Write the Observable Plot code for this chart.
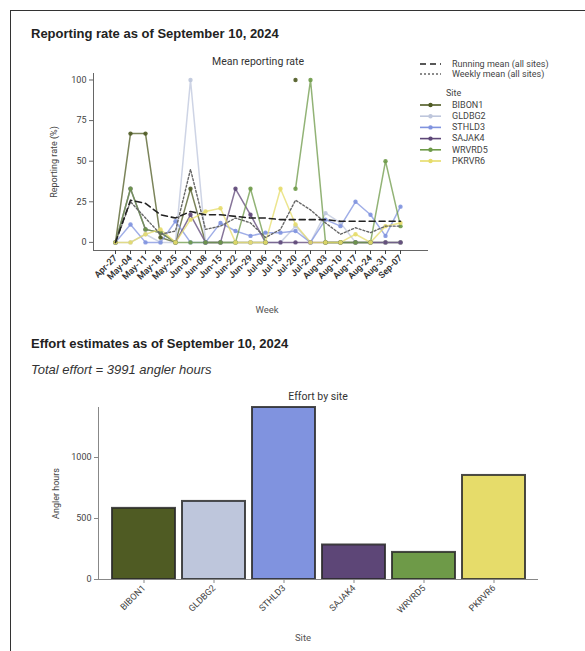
<!DOCTYPE html>
<html><head><meta charset="utf-8">
<script src="https://cdn.jsdelivr.net/npm/d3@7"></script>
<script src="https://cdn.jsdelivr.net/npm/@observablehq/plot@0.6"></script>
<style>
html,body{margin:0;padding:0;background:#fff;overflow:hidden;width:585px;height:651px;}
#page{position:relative;width:585px;height:651px;overflow:hidden;}
#box{position:absolute;left:10px;top:10px;width:620px;height:700px;border-left:1.5px solid #333;border-top:1.5px solid #333;}
.h{position:absolute;left:31px;font:bold 13px "Liberation Sans",Arial,sans-serif;color:#222;white-space:nowrap;line-height:15px;}
.sub{position:absolute;left:31px;font:italic 13px "Liberation Sans",Arial,sans-serif;color:#333;white-space:nowrap;line-height:15px;}
.ct{position:absolute;font:10.5px Roboto,sans-serif;color:#333;text-align:center;white-space:nowrap;}
.al{position:absolute;font:9.5px Roboto,sans-serif;color:#555;text-align:center;white-space:nowrap;}
.abs{position:absolute;}
</style></head>
<body><div id="page">
<div id="box"></div>
<div class="h" style="top:26px">Reporting rate as of September 10, 2024</div>
<div class="ct" style="left:188px;width:140px;top:55px">Mean reporting rate</div>
<div id="topchart" class="abs" style="left:0;top:45px"></div>
<div class="al" style="left:227px;width:80px;top:304px">Week</div>
<div id="legend" class="abs" style="left:410px;top:52px"></div>
<div class="h" style="top:336px">Effort estimates as of September 10, 2024</div>
<div class="sub" style="top:362px">Total effort = 3991 angler hours</div>
<div class="ct" style="left:248px;width:140px;top:390px">Effort by site</div>
<div id="bottomchart" class="abs" style="left:0;top:385px"></div>
<div class="al" style="left:263px;width:80px;top:632px">Site</div>
</div>
<script>
const weeks = ["Apr-27","May-04","May-11","May-18","May-25","Jun-01","Jun-08","Jun-15","Jun-22","Jun-29","Jul-06","Jul-13","Jul-20","Jul-27","Aug-03","Aug-10","Aug-17","Aug-24","Aug-31","Sep-07"];
const sites = ["BIBON1","GLDBG2","STHLD3","SAJAK4","WRVRD5","PKRVR6"];
const siteColors = ["#4f5b23","#bec6dc","#8093df","#5d4677","#6e9a48","#e6dc6a"];
const rateBIBON1 = [0, 67, 67, 3, 0, 33, 0, 0, 0, 0, 0, null, 100, null, 0, 0, 0, 0, 0, 0];
const rateGLDBG2 = [0, 0, 5, 0, 0, 100, 0, 0, 0, 0, 0, 0, 10, 0, 18, 12, 0, 0, 0, 0];
const rateSTHLD3 = [0, 11, 0, 0, 13, 0, 0, 12, 7, 4, 6, 6, 7, 0, 14, 10, 25, 17, 4, 22];
const rateSAJAK4 = [0, 33, 8, 6, 0, 17, 0, 0, 33, 17, 0, 0, 0, 0, 0, 0, 0, 0, 0, 0];
const rateWRVRD5 = [0, 33, 8, 6, 0, 0, 0, 0, 0, 33, 0, null, 33, 100, 0, 0, 0, 0, 50, 10];
const ratePKRVR6 = [0, 0, 5, 8, 0, 14, 19, 21, 0, 0, 0, 33, 11, 0, 0, 0, 5, 0, 10, 12];
const runningMean = [0, 26, 24, 17, 15, 19, 17, 17, 16, 15, 15, 14, 14, 14, 14, 13, 13, 13, 13, 13];
const weeklyMean = [0, 25, 15, 5, 7, 45, 8, 10, 15, 12, 3, 8, 26, 20, 12, 5, 9, 6, 10, 10];
const rateTicks = [0, 25, 50, 75, 100];
const effort = [583, 640, 1410, 283, 222, 853];
const effortTicks = [0, 500, 1000];

const siteRates = [rateBIBON1, rateGLDBG2, rateSTHLD3, rateSAJAK4, rateWRVRD5, ratePKRVR6];
const rows = [];
sites.forEach((s, i) => weeks.forEach((w, j) => rows.push({site: s, week: w, rate: siteRates[i][j]})));
const means = weeks.map((w, j) => ({week: w, run: runningMean[j], wk: weeklyMean[j]}));

const font = {fontFamily: "Roboto, sans-serif", fontSize: "9px", color: "#444", background: "transparent"};
const yDom = [-5, 104];

const topChart = Plot.plot({
  width: 440, height: 290,
  marginLeft: 93, marginRight: 12, marginTop: 28, marginBottom: 85,
  style: font,
  x: {type: "point", domain: weeks, padding: 1.11, align: 0.43, label: null},
  y: {domain: yDom, label: null},
  color: {domain: sites, range: siteColors},
  marks: [
    Plot.ruleY([yDom[0]], {stroke: "#666", strokeWidth: 1}),
    Plot.frame({anchor: "left", stroke: "#666"}),
    Plot.line(rows, {x: "week", y: "rate", z: "site", stroke: "site", strokeWidth: 1.5, strokeOpacity: 0.75}),
    Plot.dot(rows, {x: "week", y: "rate", fill: "site", r: 2.2, stroke: "none", fillOpacity: 0.9}),
    Plot.line(means, {x: "week", y: "wk", stroke: "#666", strokeWidth: 1.4, strokeDasharray: "2,2"}),
    Plot.line(means, {x: "week", y: "run", stroke: "#222", strokeWidth: 1.6, strokeDasharray: "6,4"}),
    Plot.axisY({ticks: rateTicks, tickSize: 4, tickPadding: 3, stroke: "#666", label: "Reporting rate (%)", labelArrow: "none", labelAnchor: "center", labelOffset: 43, fill: "#444"}),
    Plot.axisX({tickSize: 4, tickRotate: -45, tickPadding: 2, fontWeight: 600, fill: "#333", label: null})
  ]
});
document.getElementById("topchart").appendChild(topChart);

// legend
const lg = d3.select("#legend").append("svg").attr("width", 175).attr("height", 120)
  .style("font-family", "Roboto, sans-serif").style("font-size", "9px");
const meanItems = [{label: "Running mean (all sites)", dash: "6,4", color: "#222"}, {label: "Weekly mean (all sites)", dash: "2,2", color: "#666"}];
meanItems.forEach((m, i) => {
  const g = lg.append("g").attr("transform", `translate(0,${12 + i * 10})`);
  g.append("line").attr("x1", 10).attr("x2", 31).attr("stroke", m.color).attr("stroke-width", 1.5).attr("stroke-dasharray", m.dash);
  g.append("text").attr("x", 42).attr("dy", "0.32em").attr("fill", "#444").text(m.label);
});
lg.append("text").attr("x", 36).attr("y", 41).attr("dy", "0.32em").attr("fill", "#444").text("Site");
sites.forEach((s, i) => {
  const g = lg.append("g").attr("transform", `translate(0,${53 + i * 11.2})`);
  g.append("line").attr("x1", 10).attr("x2", 31).attr("stroke", siteColors[i]).attr("stroke-width", 1.6);
  g.append("circle").attr("cx", 20.5).attr("r", 2.2).attr("fill", siteColors[i]);
  g.append("text").attr("x", 42).attr("dy", "0.32em").attr("fill", "#444").text(s);
});

const effortRows = sites.map((s, i) => ({site: s, hours: effort[i]}));
const bottomChart = Plot.plot({
  width: 560, height: 266,
  marginLeft: 98, marginRight: 22, marginTop: 22, marginBottom: 72,
  style: font,
  x: {type: "band", domain: sites, paddingInner: 0.1, paddingOuter: 0.15, label: null},
  y: {domain: [0, 1410], label: null},
  color: {domain: sites, range: siteColors},
  marks: [
    Plot.barY(effortRows, {x: "site", y: "hours", fill: "site", stroke: "#2a2a2a", strokeWidth: 2, strokeOpacity: 0.85}),
    Plot.ruleY([0], {stroke: "#888"}),
    Plot.frame({anchor: "left", stroke: "#888"}),
    Plot.axisY({ticks: effortTicks, tickFormat: d3.format("d"), tickSize: 4, tickPadding: 3, stroke: "#888", label: "Angler hours", labelArrow: "none", labelAnchor: "center", labelOffset: 46, fill: "#444"}),
    Plot.axisX({tickSize: 4, tickRotate: -45, tickPadding: 3, fill: "#444", stroke: "#888", label: null})
  ]
});
document.getElementById("bottomchart").appendChild(bottomChart);
</script>
</body></html>
